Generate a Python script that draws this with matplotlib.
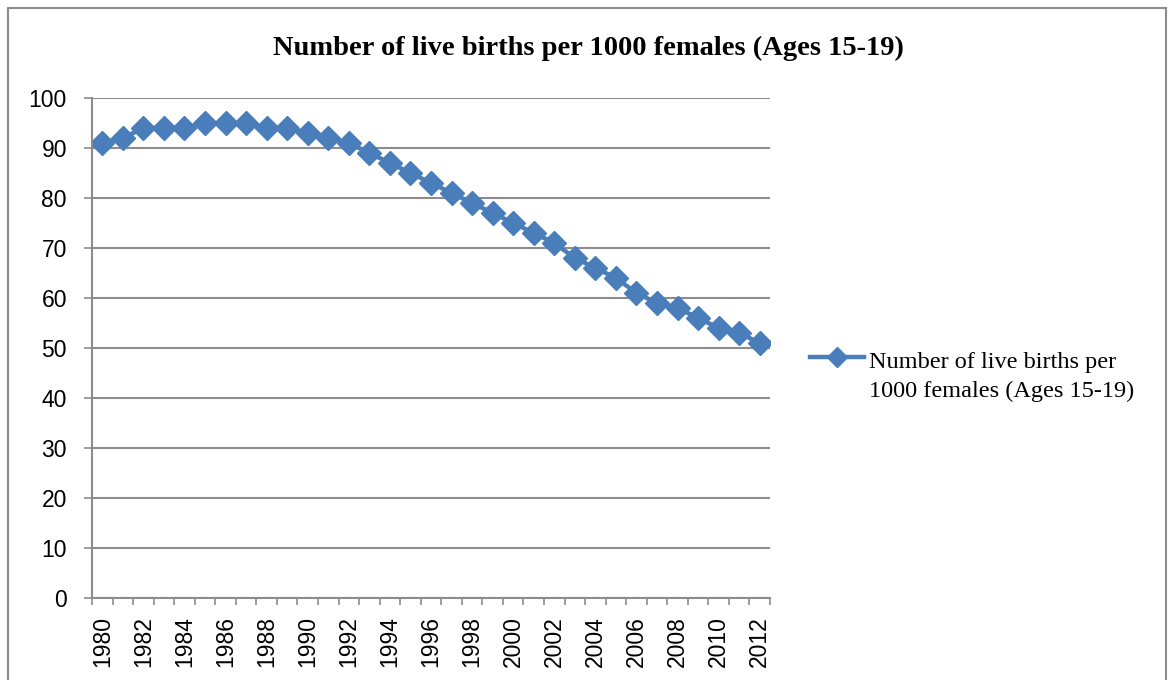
import matplotlib
matplotlib.use("Agg")
import matplotlib.pyplot as plt
from matplotlib.patches import Rectangle
from matplotlib.lines import Line2D
from matplotlib.legend_handler import HandlerLine2D

years = list(range(1980, 2013))
births = [91, 92, 94, 94, 94, 95, 95, 95, 94, 94, 93, 92, 91, 89, 87, 85, 83, 81,
          79, 77, 75, 73, 71, 68, 66, 64, 61, 59, 58, 56, 54, 53, 51]
series_name = "Number of live births per\n1000 females (Ages 15-19)"
title = "Number of live births per 1000 females (Ages 15-19)"

W, H = 1174, 680
fig = plt.figure(figsize=(W / 100, H / 100), dpi=100)
fig.patches.append(Rectangle((8 / W, -0.01), (1166 - 8) / W, 1 - 8 / H + 0.01,
                             transform=fig.transFigure, fill=False,
                             edgecolor="#8c8c8c", linewidth=1.5))

ax = fig.add_axes([92 / W, 1 - 598 / H, (770 - 92) / W, (598 - 98) / H])
x = list(range(len(years)))
color = "#4A7EBB"
ax.plot(x, births, color=color, linewidth=3.2, marker="D", markersize=12.5,
        markeredgecolor=color, markerfacecolor=color)

ax.set_xlim(-0.5, len(years) - 0.5)
ax.set_ylim(0, 100)
ax.set_yticks(range(0, 101, 10))
ax.grid(axis="y", color="#8c8c8c", linewidth=1.5)
ax.set_axisbelow(True)
for s in ["top", "right"]:
    ax.spines[s].set_visible(False)
ax.spines["left"].set_color("#8c8c8c")
ax.spines["bottom"].set_color("#8c8c8c")
ax.spines["left"].set_linewidth(1.5)
ax.spines["bottom"].set_linewidth(1.5)

ax.set_xticks([i - 0.5 for i in range(len(years) + 1)], minor=True)
ax.set_xticks(x[::2])
ax.set_xticklabels([str(y) for y in years[::2]], rotation=90,
                   fontfamily="Liberation Sans", fontsize=16.5)
ax.tick_params(axis="x", which="major", length=0, pad=13)
ax.tick_params(axis="x", which="minor", length=5, color="#8c8c8c", width=1.2)
ax.tick_params(axis="y", length=6, color="#8c8c8c", width=1.2, pad=12)
for lbl in ax.get_yticklabels():
    lbl.set_fontfamily("Liberation Sans")
    lbl.set_fontsize(16.5)

fig.text(588 / W, 1 - 48 / H, title, ha="center", va="center",
         fontfamily="Liberation Serif", fontweight="bold", fontsize=20.5)


class RaisedHandler(HandlerLine2D):
    def create_artists(self, legend, orig_handle, xdescent, ydescent, width,
                       height, fontsize, trans):
        return super().create_artists(legend, orig_handle, xdescent,
                                      ydescent - 28, width, height, fontsize, trans)


handle = Line2D([], [], color=color, linewidth=3.2, marker="D", markersize=10)
leg = fig.legend([handle], [series_name], loc="center left",
                 bbox_to_anchor=(800 / W, 1 - 377 / H), frameon=False,
                 prop={"family": "Liberation Serif", "size": 17.5},
                 handlelength=2.22, handletextpad=0.2, borderaxespad=0,
                 handler_map={Line2D: RaisedHandler()})
for t in leg.get_texts():
    t.set_linespacing(1.45)

fig.savefig("out.png", dpi=100)
